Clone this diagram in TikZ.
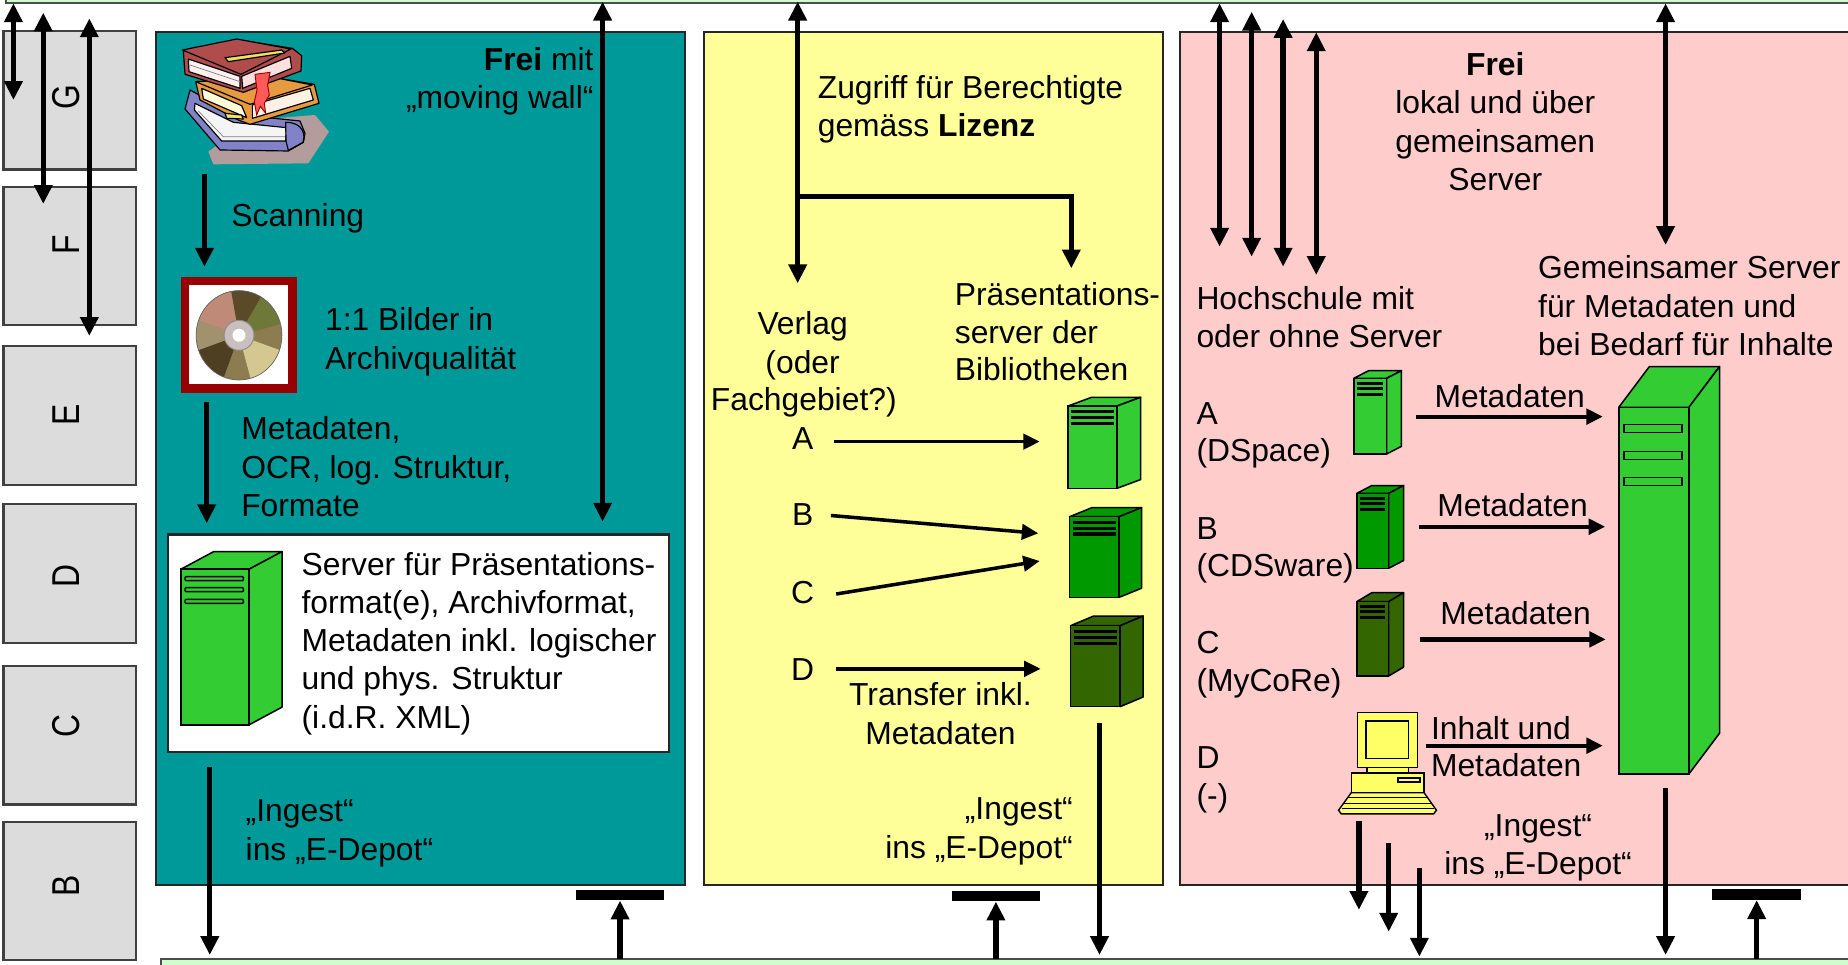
\documentclass[tikz,border=0pt]{standalone}
\usepackage{fontspec}
\setmainfont{Liberation Sans}
\usetikzlibrary{arrows.meta}
\definecolor{tealbg}{HTML}{009999}
\definecolor{yelbg}{HTML}{FFFF99}
\definecolor{pinkbg}{HTML}{FFCCCC}
\definecolor{graybox}{HTML}{DCDCDC}
\definecolor{barbg}{HTML}{CCFFCC}
\definecolor{sgreen}{HTML}{33CC33}
\definecolor{mgreen}{HTML}{009900}
\definecolor{dgreen}{HTML}{336600}
\definecolor{cdred}{HTML}{990000}
\definecolor{pcyel}{HTML}{FFFF66}
\definecolor{bkred}{HTML}{B04C4C}
\definecolor{bkorange}{HTML}{E89A40}
\definecolor{bkblue}{HTML}{8282C8}
\definecolor{bkshadow}{HTML}{B49C9C}
\newcommand\fsz{\fontsize{27}{32.5}\selectfont}
\newcommand\tallletter[1]{\scalebox{1}[1.22]{#1}}
% server icon: x, y (top-left of front), w, h, dx, dy(up), colour
\newcommand\srvicon[7]{%
  \filldraw[fill=#7,draw=black,line width=1.3pt,line join=round] ({#1},{#2}) -- ++({#5},{-#6}) -- ++({#3},0) -- ++({-#5},{#6}) -- cycle;
  \filldraw[fill=#7,draw=black,line width=1.3pt,line join=round] ({#1+#3},{#2}) -- ++({#5},{-#6}) -- ++(0,{#4}) -- ++({-#5},{#6}) -- cycle;
  \filldraw[fill=#7,draw=black,line width=1.3pt] ({#1},{#2}) rectangle ++({#3},{#4});
}
% dark slot stripes: x, y (front top-left), w, o1, o2, o3
\newcommand\srvslots[6]{%
  \foreach \o in {#4,#5,#6} {\draw[line width=2.6pt] ({#1+2.5},{#2+\o}) -- ({#1+#3-3},{#2+\o});}
}
\begin{document}
\begin{tikzpicture}[x=1pt,y=-1pt,
  txt/.style={inner sep=0pt,font=\fsz},
  panel/.style={draw=black!85,line width=2pt},
  gbox/.style={fill=graybox,draw=black!75,line width=2pt},
  bigtip/.tip={Triangle[width=15pt,length=16pt]},
  medtip/.tip={Triangle[width=13pt,length=14pt]},
  arr/.style={line width=4.5pt,-bigtip},
  darr/.style={line width=4.5pt,bigtip-bigtip},
  marr/.style={line width=3pt,-medtip},
  parr/.style={line width=3.6pt,-medtip},
  tbar/.style={fill=black,inner sep=0pt,minimum width=75pt,minimum height=9pt},
  bk/.style={draw=black,line width=1pt,line join=round}
]
\useasboundingbox (0,0) rectangle (1568,818);

% ---------- bars top / bottom ----------
\filldraw[fill=barbg,draw=black!70,line width=1.5pt] (5,-12) rectangle (1590,2.8);
\filldraw[fill=barbg,draw=black!70,line width=1.5pt] (136.4,813.7) rectangle (1590,835);

% ---------- left gray boxes ----------
\filldraw[gbox] (3,26.3) rectangle (115.5,143.7);
\filldraw[gbox] (3,158.4) rectangle (115.5,275.7);
\filldraw[gbox] (3,293.6) rectangle (115.5,411.5);
\filldraw[gbox] (3,427.9) rectangle (115.5,545.3);
\filldraw[gbox] (3,565.1) rectangle (115.5,682.5);
\filldraw[gbox] (3,697.7) rectangle (115.5,814.6);
\node[txt,rotate=90] (lG) at (56,82) {\tallletter{G}};
\node[txt,rotate=90] (lF) at (56,208) {\tallletter{F}};
\node[txt,rotate=90] (lE) at (56,352.4) {\tallletter{E}};
\node[txt,rotate=90] (lD) at (56,488.4) {\tallletter{D}};
\node[txt,rotate=90] (lC) at (56,616) {\tallletter{C}};
\node[txt,rotate=90] (lB) at (56,752) {\tallletter{B}};

% ---------- panels ----------
\filldraw[panel,fill=tealbg] (132.6,26.9) rectangle (581.4,750.9);
\filldraw[panel,fill=yelbg] (597.2,26.9) rectangle (987,750.9);
\filldraw[panel,fill=pinkbg] (1001,26.9) rectangle (1590,750.9);

% ---------- books clipart ----------
\begin{scope}[shift={(148.5,29.7)},scale=0.2828]
  \fill[bkshadow] (230,255) -- (420,240) -- (462,290) -- (400,385) -- (115,388) -- (100,350) -- cycle;
  % bottom book
  \filldraw[bk,fill=bkblue] (30,222) -- (45,165) -- (180,238) -- (375,258) -- (390,295) -- (385,322) -- (340,348) -- (135,345) -- cycle;
  \filldraw[bk,fill=white!92!gray] (58,225) -- (140,318) -- (332,318) -- (335,278) -- (175,262) -- (60,205) -- cycle;
  \draw[gray,line width=0.6pt] (70,228) -- (145,305) -- (330,305);
  \filldraw[bk,fill=bkblue] (332,262) .. controls (385,262) and (392,300) .. (384,322) -- (340,346) -- (333,318) -- cycle;
  % middle book
  \filldraw[bk,fill=bkorange] (62,140) -- (300,128) -- (418,148) -- (432,205) -- (225,268) -- (190,255) -- (75,195) -- cycle;
  \filldraw[bk,fill=yellow!15!white] (80,160) -- (200,212) -- (215,248) -- (85,192) -- cycle;
  \filldraw[bk,fill=white!90!orange] (232,210) -- (405,160) -- (415,195) -- (232,250) -- cycle;
  \filldraw[bk,fill=bkorange] (62,140) -- (300,128) -- (412,150) -- (225,208) -- cycle;
  \filldraw[bk,fill=yellow!60!olive!50] (150,235) -- (200,240) -- (205,252) -- (155,250) -- cycle;
  % top book
  \filldraw[bk,fill=bkred] (25,48) -- (188,14) -- (352,40) -- (380,62) -- (378,108) -- (205,172) -- (30,118) -- cycle;
  \filldraw[bk,fill=white!94!red] (40,72) -- (195,124) -- (195,160) -- (42,110) -- cycle;
  \draw[gray,line width=0.6pt] (45,90) -- (195,140);
  \filldraw[bk,fill=white!88!red] (200,124) -- (345,64) -- (350,100) -- (203,160) -- cycle;
  \filldraw[bk,fill=bkred] (22,45) -- (185,12) -- (348,42) -- (198,118) -- cycle;
  \filldraw[bk,fill=yellow!70!olive!60] (150,68) -- (320,45) -- (330,54) -- (160,80) -- cycle;
  % bookmark
  \filldraw[draw=red!60!black,line width=0.8pt,fill=red!65] (240,118) -- (285,112) -- (278,150) -- (283,180) -- (268,205) -- (272,235) -- (256,214) -- (245,240) -- (238,200) -- (246,165) -- cycle;
\end{scope}

% ---------- CD ----------
\filldraw[fill=white,draw=cdred,line width=7pt] (157.1,238.5) rectangle (248.2,329.7);
\coordinate (cdc) at (202.8,284.5);
\begin{scope}
  \clip (cdc) ellipse [x radius=36.4, y radius=37.9];
  \fill[color={rgb,255:red,140;green,124;blue,80}] (cdc) circle [radius=45];
  \fill[color={rgb,255:red,192;green,138;blue,120}] (cdc) -- ++(200:50) arc[start angle=200,end angle=260,radius=50] -- cycle;
  \fill[color={rgb,255:red,90;green,74;blue,40}] (cdc) -- ++(260:50) arc[start angle=260,end angle=300,radius=50] -- cycle;
  \fill[color={rgb,255:red,110;green,120;blue,56}] (cdc) -- ++(300:50) arc[start angle=300,end angle=345,radius=50] -- cycle;
  \fill[color={rgb,255:red,212;green,200;blue,144}] (cdc) -- ++(20:50) arc[start angle=20,end angle=75,radius=50] -- cycle;
  \fill[color={rgb,255:red,78;green,62;blue,34}] (cdc) -- ++(110:50) arc[start angle=110,end angle=160,radius=50] -- cycle;
  \fill[color={rgb,255:red,160;green,146;blue,110}] (cdc) -- ++(160:50) arc[start angle=160,end angle=200,radius=50] -- cycle;
\end{scope}
\draw[black!60,line width=0.6pt] (cdc) ellipse [x radius=36.4, y radius=37.9];
\filldraw[fill=black!25!white!85!pink,draw=black!45,line width=0.8pt] (cdc) circle [radius=12.7];
\fill[white] (cdc) circle [radius=5.5];

% ---------- teal texts ----------
\node[txt,anchor=base east] (tfrei) at (503.8,59.4) {\textbf{Frei} mit};
\node[txt,anchor=base east] (tmove) at (503.8,92) {„moving wall“};
\node[txt,anchor=base west] (tscan) at (196.2,192.3) {Scanning};
\node[txt,anchor=base west] (tbild1) at (275.7,280.8) {1:1 Bilder in};
\node[txt,anchor=base west] (tbild2) at (275.7,313.4) {Archivqualität};
\node[txt,anchor=base west] (tmeta1) at (204.5,373.3) {Metadaten,};
\node[txt,anchor=base west] (tmeta2) at (204.5,405.9) {OCR, log. Struktur,};
\node[txt,anchor=base west] (tmeta3) at (204.5,438.4) {Formate};

% white box with server
\filldraw[fill=white,draw=black!85,line width=2pt] (142.4,453.4) rectangle (567.4,638.3);
\srvicon{153.4}{483}{57.9}{132}{28}{15}{sgreen}
\foreach \yy in {489.3,498.6,508.5} {\filldraw[fill=sgreen,draw=black,line width=1.2pt,rounded corners=0.8pt] (157,\yy) rectangle (206.5,{\yy+3.4});}
\node[txt,anchor=base west] (ts1) at (255.7,487.9) {Server für Präsentations-};
\node[txt,anchor=base west] (ts2) at (255.7,520.4) {format(e), Archivformat,};
\node[txt,anchor=base west] (ts3) at (255.7,552.9) {Metadaten inkl. logischer};
\node[txt,anchor=base west] (ts4) at (255.7,585.4) {und phys. Struktur};
\node[txt,anchor=base west] (ts5) at (255.7,617.9) {(i.d.R. XML)};
\node[txt,anchor=base west] (ting1) at (208.3,697.2) {„Ingest“};
\node[txt,anchor=base west] (ting2) at (208.3,729.7) {ins „E-Depot“};

% ---------- yellow panel ----------
\node[txt,anchor=base west] (yz1) at (693.7,84) {Zugriff für Berechtigte};
\node[txt,anchor=base west] (yz2) at (693.7,116) {gemäss \textbf{Lizenz}};
\node[txt,anchor=base west] (yp1) at (810,258.8) {Präsentations-};
\node[txt,anchor=base west] (yp2) at (810,291.3) {server der};
\node[txt,anchor=base west] (yp3) at (810,323) {Bibliotheken};
\node[txt,anchor=base] (yv1) at (681,284.2) {Verlag};
\node[txt,anchor=base] (yv2) at (681,316.8) {(oder};
\node[txt,anchor=base] (yv3) at (682,348.4) {Fachgebiet?)};
\node[txt,anchor=base] (yA) at (681,381.8) {A};
\node[txt,anchor=base] (yB) at (681,446.3) {B};
\node[txt,anchor=base] (yC) at (681,511.9) {C};
\node[txt,anchor=base] (yD) at (681,577) {D};
\node[txt,anchor=base] (ytr1) at (798,598.8) {Transfer inkl.};
\node[txt,anchor=base] (ytr2) at (798,631.5) {Metadaten};
\node[txt,anchor=base east] (ying1) at (910.4,695.7) {„Ingest“};
\node[txt,anchor=base east] (ying2) at (910.4,728.3) {ins „E-Depot“};
\srvicon{906.2}{344.5}{41.6}{69.8}{20}{7.4}{sgreen}
\srvslots{906.2}{344.5}{41.6}{5}{9.7}{14.7}
\srvicon{907.6}{438.4}{42}{68.4}{19}{7.7}{mgreen}
\srvslots{907.6}{438.4}{42}{5}{9.7}{14.7}
\srvicon{908.4}{530.9}{42}{68.7}{19.5}{8.2}{dgreen}
\srvslots{908.4}{530.9}{42}{5}{9.7}{14.7}

% ---------- pink panel ----------
\node[txt,anchor=base] (pf1) at (1268.7,64) {\textbf{Frei}};
\node[txt,anchor=base] (pf2) at (1268.7,96.5) {lokal und über};
\node[txt,anchor=base] (pf3) at (1268.7,129) {gemeinsamen};
\node[txt,anchor=base] (pf4) at (1268.7,161.5) {Server};
\node[txt,anchor=base west] (ph1) at (1015,263) {Hochschule mit};
\node[txt,anchor=base west] (ph2) at (1015,294.7) {oder ohne Server};
\node[txt,anchor=base west] (pg1) at (1304.9,236.5) {Gemeinsamer Server};
\node[txt,anchor=base west] (pg2) at (1304.9,269) {für Metadaten und};
\node[txt,anchor=base west] (pg3) at (1304.9,301.5) {bei Bedarf für Inhalte};
\node[txt,anchor=base west] (pA1) at (1015,359.8) {A};
\node[txt,anchor=base west] (pA2) at (1015,391.7) {(DSpace)};
\node[txt,anchor=base west] (pB1) at (1015,457.6) {B};
\node[txt,anchor=base west] (pB2) at (1015,489.3) {(CDSware)};
\node[txt,anchor=base west] (pC1) at (1015,554.9) {C};
\node[txt,anchor=base west] (pC2) at (1015,586.8) {(MyCoRe)};
\node[txt,anchor=base west] (pD1) at (1015,651.9) {D};
\node[txt,anchor=base west] (pD2) at (1015,684) {(-)};
\node[txt,anchor=base west] (pmA) at (1217,345.6) {Metadaten};
\node[txt,anchor=base west] (pmB) at (1219.4,438.4) {Metadaten};
\node[txt,anchor=base west] (pmC) at (1222,529.7) {Metadaten};
\node[txt,anchor=base west] (pmD1) at (1214,627.3) {Inhalt und};
\node[txt,anchor=base west] (pmD2) at (1214,659) {Metadaten};
\node[txt,anchor=base] (ping1) at (1305,709.9) {„Ingest“};
\node[txt,anchor=base] (ping2) at (1305,741.8) {ins „E-Depot“};
\srvicon{1148.7}{321}{27.8}{64.2}{12.6}{6.5}{sgreen}
\srvslots{1148.7}{321}{27.8}{4.2}{8.5}{13.6}
\srvicon{1151.2}{418.6}{27}{63.6}{12.7}{6.6}{mgreen}
\srvslots{1151.2}{418.6}{27}{4.2}{8.5}{13.6}
\srvicon{1151.2}{510.5}{27}{63.1}{12.7}{7.6}{dgreen}
\srvslots{1151.2}{510.5}{27}{4.2}{8.5}{13.6}
% big server
\srvicon{1373.5}{345.6}{59.5}{311.1}{26}{34.6}{sgreen}
\foreach \yy in {360,383,405} {\filldraw[fill=sgreen,draw=black,line width=1.3pt] (1378,\yy) rectangle (1427,{\yy+7});}
% computer
\begin{scope}[draw=black,line width=1.2pt,fill=pcyel]
  \filldraw (1146.5,672.6) -- (1208.3,672.6) -- (1218.8,687.5) -- (1216.5,690.5) -- (1138,690.5) -- (1135.7,687.5) -- cycle;
  \draw[line width=0.9pt] (1143,677) -- (1212,677) (1140.5,681.5) -- (1214.5,681.5) (1138.5,686) -- (1216.5,686);
  \filldraw (1146.5,656) rectangle (1208.3,672.6);
  \filldraw (1186,660) rectangle (1205,663.5);
  \filldraw (1160,651) rectangle (1195,656);
  \filldraw (1152,604.4) rectangle (1202.6,651);
  \filldraw (1159,611.7) rectangle (1195.3,643.4);
\end{scope}

% ---------- T bars ----------
\node[tbar] (tb1) at (526.1,759.4) {};
\node[tbar] (tb2) at (845,760.3) {};
\node[tbar] (tb3) at (1490.5,759.1) {};

% ---------- coordinates for connectors ----------
\coordinate (l1a) at (11.4,2.8);   \coordinate (l1b) at (11.4,84.8);
\coordinate (l2a) at (36.7,10.7);  \coordinate (l2b) at (36.7,173);
\coordinate (l3a) at (75.8,15.6);  \coordinate (l3b) at (75.8,285);
\coordinate (scA) at (173.5,147.6); \coordinate (scB) at (173.5,226.3);
\coordinate (mtA) at (175.4,341.4); \coordinate (mtB) at (175.4,444);
\coordinate (lgA) at (511.3,1.4);  \coordinate (lgB) at (511.3,442.6);
\coordinate (igA) at (178,650.5);  \coordinate (igB) at (178,810.3);
\coordinate (ub1) at (526.1,813.7);
\coordinate (yvA) at (676.8,1.4);  \coordinate (yvB) at (676.8,240.4);
\coordinate (ybr) at (676.8,166.9); \coordinate (ybk) at (909,166.9); \coordinate (ybe) at (909,227.7);
\coordinate (yaA) at (707.8,374.7); \coordinate (yaB) at (882.2,374.7);
\coordinate (ybA) at (705,437.4);   \coordinate (ybB) at (881,452.5);
\coordinate (ycA) at (709.5,504);   \coordinate (ycB) at (882.2,476);
\coordinate (ydA) at (709.5,567.5); \coordinate (ydB) at (883,567.5);
\coordinate (ydnA) at (932.9,613.7); \coordinate (ydnB) at (932.9,810.3);
\coordinate (ub2) at (845,813.7);
\coordinate (p1a) at (1034.8,2.8);  \coordinate (p1b) at (1034.8,209.3);
\coordinate (p2a) at (1062,9.9);    \coordinate (p2b) at (1062,217.8);
\coordinate (p3a) at (1088.7,16.1); \coordinate (p3b) at (1088.7,226.3);
\coordinate (p4a) at (1116.8,27.4); \coordinate (p4b) at (1116.8,233.3);
\coordinate (p5a) at (1413.2,2.8);  \coordinate (p5b) at (1413.2,207.9);
\coordinate (maA) at (1201.8,353.5); \coordinate (maB) at (1360,353.5);
\coordinate (mbA) at (1204,446.9);   \coordinate (mbB) at (1362,446.9);
\coordinate (mcA) at (1204.5,542.5); \coordinate (mcB) at (1362.5,542.5);
\coordinate (mdA) at (1209.8,632.7); \coordinate (mdB) at (1360,632.7);
\coordinate (bsA) at (1413.2,668.9); \coordinate (bsB) at (1413.2,810.3);
\coordinate (c1A) at (1153,696.3);   \coordinate (c1B) at (1153,772);
\coordinate (c2A) at (1178.3,715.5); \coordinate (c2B) at (1178.3,790.5);
\coordinate (c3A) at (1204.3,736.2); \coordinate (c3B) at (1204.3,811.7);
\coordinate (ub3) at (1490.5,813.7);

% ---------- connectors ----------
\draw[darr] (l1a) -- (l1b);
\draw[darr] (l2a) -- (l2b);
\draw[darr] (l3a) -- (l3b);
\draw[arr] (scA) -- (scB);
\draw[arr] (mtA) -- (mtB);
\draw[darr] (lgA) -- (lgB);
\draw[arr] (igA) -- (igB);
\draw[arr] (ub1) -- (tb1.south);
\draw[darr] (yvA) -- (yvB);
\draw[arr] (ybr) -- (ybk) -- (ybe);
\draw[marr] (yaA) -- (yaB);
\draw[marr] (ybA) -- (ybB);
\draw[marr] (ycA) -- (ycB);
\draw[marr] (ydA) -- (ydB);
\draw[arr] (ydnA) -- (ydnB);
\draw[arr] (ub2) -- (tb2.south);
\draw[darr] (p1a) -- (p1b);
\draw[darr] (p2a) -- (p2b);
\draw[darr] (p3a) -- (p3b);
\draw[darr] (p4a) -- (p4b);
\draw[darr] (p5a) -- (p5b);
\draw[parr] (maA) -- (maB);
\draw[parr] (mbA) -- (mbB);
\draw[parr] (mcA) -- (mcB);
\draw[parr] (mdA) -- (mdB);
\draw[arr] (bsA) -- (bsB);
\draw[arr] (c1A) -- (c1B);
\draw[arr] (c2A) -- (c2B);
\draw[arr] (c3A) -- (c3B);
\draw[arr] (ub3) -- (tb3.south);
\end{tikzpicture}
\end{document}
